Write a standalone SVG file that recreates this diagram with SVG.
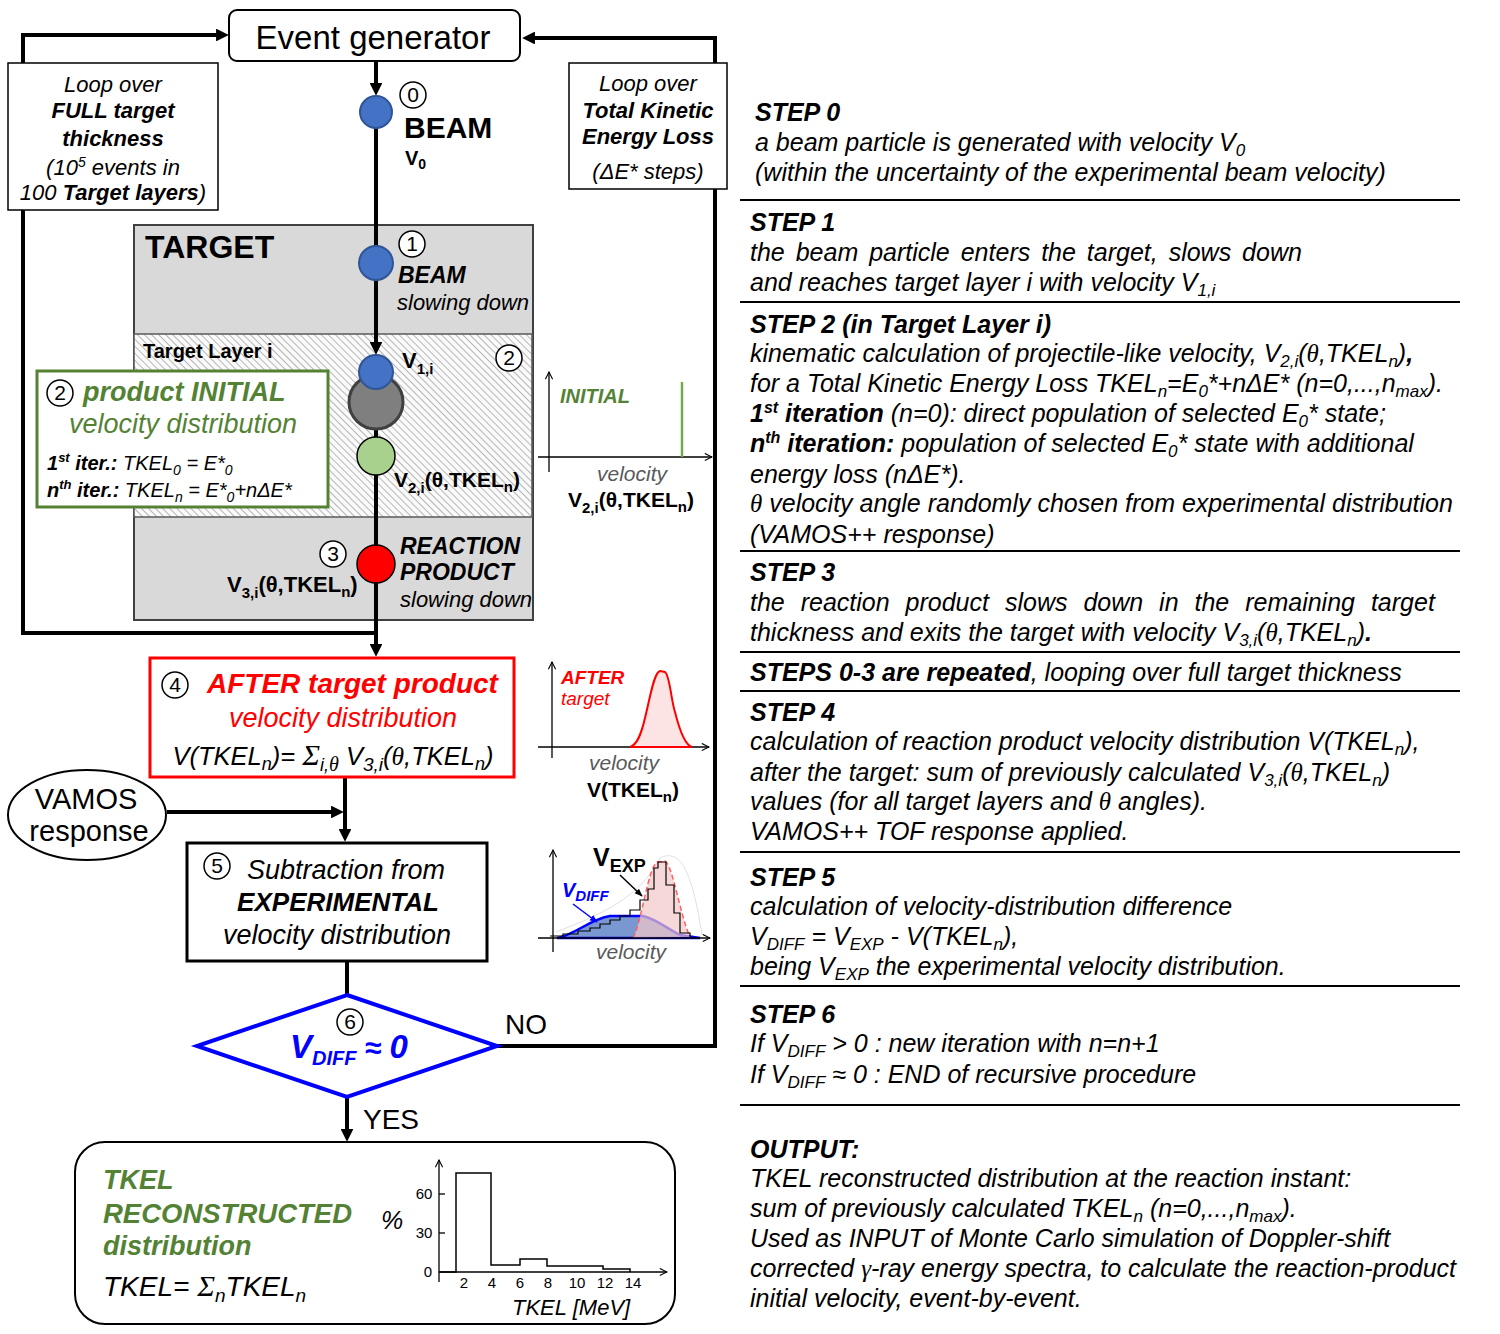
<svg xmlns="http://www.w3.org/2000/svg" width="1500" height="1334" viewBox="0 0 1500 1334">
<defs>
<style>
text{font-family:"Liberation Sans",Arial,sans-serif;fill:#000}
.i{font-style:italic}
.b{font-weight:bold}
.sr{font-family:"Liberation Serif","Times New Roman",serif}
.ln{stroke:#000;stroke-width:4;fill:none}
.thin{stroke:#000;stroke-width:1.3;fill:none}
.cn{fill:#fff;stroke:#000;stroke-width:1.5}
.cnt{font-size:21px;text-anchor:middle}
.rt{font-size:25px;font-style:italic}
.sep{stroke:#000;stroke-width:2}
.gr{fill:#548235}
.rd{fill:#FF0000}
.bl{fill:#0000FF}
.gy{fill:#595959}
</style>
<marker id="ah" viewBox="0 0 10 10" refX="7" refY="5" markerWidth="3.2" markerHeight="3.2" orient="auto" markerUnits="strokeWidth"><path d="M0,0 L10,5 L0,10 z" fill="#000"/></marker>
<marker id="ax" viewBox="0 0 10 10" refX="9" refY="5" markerWidth="9" markerHeight="9" orient="auto" markerUnits="userSpaceOnUse"><path d="M1,1 L9,5 L1,9" fill="none" stroke="#000" stroke-width="1.2"/></marker>
<marker id="sa" viewBox="0 0 10 10" refX="9" refY="5" markerWidth="8" markerHeight="8" orient="auto" markerUnits="userSpaceOnUse"><path d="M0,1 L10,5 L0,9 z" fill="#000"/></marker>
<marker id="sab" viewBox="0 0 10 10" refX="9" refY="5" markerWidth="8" markerHeight="8" orient="auto" markerUnits="userSpaceOnUse"><path d="M0,1 L10,5 L0,9 z" fill="#0000FF"/></marker>
<pattern id="hatch" width="5" height="5" patternUnits="userSpaceOnUse" patternTransform="rotate(-45)">
<rect width="5" height="5" fill="#FAFAFA"/>
<line x1="0" y1="0" x2="0" y2="5" stroke="#A6A6A6" stroke-width="1.6"/>
</pattern>
</defs>

<rect width="1500" height="1334" fill="#fff"/>

<!-- Target background -->
<g id="target">
<rect x="134" y="225" width="399" height="395" fill="#D9D9D9" stroke="#404040" stroke-width="2"/>
<rect x="134" y="334" width="398" height="183" fill="url(#hatch)" stroke="#595959" stroke-width="1.5"/>
<text x="145" y="258" class="b" font-size="32">TARGET</text>
<text x="143" y="358" class="b" font-size="20">Target Layer i</text>
</g>

<!-- Connectors -->
<g id="connectors">
<line x1="376" y1="61" x2="376" y2="92" class="ln" marker-end="url(#ah)"/>
<line x1="376" y1="120" x2="376" y2="351" class="ln" marker-end="url(#ah)"/>
<line x1="376" y1="380" x2="376" y2="653" class="ln" marker-end="url(#ah)"/>
<path d="M376,633 H23 V35 H225" class="ln" marker-end="url(#ah)"/>
<path d="M497,1046 H715 V38 H526" class="ln" marker-end="url(#ah)"/>
<line x1="345" y1="777" x2="345" y2="838" class="ln" marker-end="url(#ah)"/>
<line x1="167" y1="812" x2="340" y2="812" class="ln" marker-end="url(#ah)"/>
<line x1="347" y1="962" x2="347" y2="995" class="ln"/>
<line x1="347" y1="1097" x2="347" y2="1138" class="ln" marker-end="url(#ah)"/>
</g>

<!-- Event generator -->
<g id="event-generator">
<rect x="229" y="10" width="291" height="51" rx="8" fill="#fff" stroke="#000" stroke-width="2"/>
<text x="373" y="49" text-anchor="middle" font-size="33">Event generator</text>
</g>

<!-- Loop boxes -->
<g id="loop-full">
<rect x="8" y="63" width="210" height="147" fill="#fff" stroke="#000" stroke-width="1.5"/>
<text x="113" y="92" text-anchor="middle" class="i" font-size="22">Loop over</text>
<text x="113" y="118" text-anchor="middle" class="i b" font-size="22">FULL target</text>
<text x="113" y="146" text-anchor="middle" class="i b" font-size="22">thickness</text>
<text x="113" y="175" text-anchor="middle" class="i" font-size="22">(10<tspan font-size="14" dy="-8">5</tspan><tspan dy="8"> events in</tspan></text>
<text x="113" y="200" text-anchor="middle" class="i" font-size="22">100 <tspan class="b">Target layers</tspan>)</text>
</g>
<g id="loop-tkel">
<rect x="569" y="63" width="158" height="126" fill="#fff" stroke="#000" stroke-width="1.5"/>
<text x="648" y="91" text-anchor="middle" class="i" font-size="22">Loop over</text>
<text x="648" y="118" text-anchor="middle" class="i b" font-size="22">Total Kinetic</text>
<text x="648" y="144" text-anchor="middle" class="i b" font-size="22">Energy Loss</text>
<text x="648" y="179" text-anchor="middle" class="i" font-size="22">(ΔE* steps)</text>
</g>

<!-- Step 0 beam -->
<g id="beam0">
<circle cx="376" cy="112" r="16" fill="#4472C4" stroke="#2F5597" stroke-width="2"/>
<circle cx="413" cy="95" r="13" class="cn"/>
<text x="413" y="102" class="cnt">0</text>
<text x="404" y="138" class="b" font-size="30">BEAM</text>
<text x="405" y="165" class="b" font-size="20">V<tspan font-size="14" dy="4">0</tspan></text>
</g>

<!-- Step 1 -->
<g id="beam1">
<circle cx="376" cy="263" r="17" fill="#4472C4" stroke="#2F5597" stroke-width="2"/>
<circle cx="412" cy="244" r="13" class="cn"/>
<text x="412" y="251" class="cnt">1</text>
<text x="398" y="283" class="i b" font-size="23">BEAM</text>
<text x="397" y="310" class="i" font-size="22">slowing down</text>
</g>

<!-- Step 2 -->
<g id="layer-i">
<circle cx="376" cy="402" r="27" fill="#7F7F7F" stroke="#404040" stroke-width="3"/>
<circle cx="376" cy="372" r="17" fill="#4472C4" stroke="#2F5597" stroke-width="2"/>
<circle cx="376" cy="456" r="19" fill="#A9D18E" stroke="#000" stroke-width="1.5"/>
<text x="402" y="368" class="b" font-size="22">V<tspan font-size="15" dy="6">1,i</tspan></text>
<circle cx="509" cy="358" r="13" class="cn"/>
<text x="509" y="365" class="cnt">2</text>
<text x="394" y="487" class="b" font-size="21">V<tspan font-size="15" dy="6">2,i</tspan><tspan dy="-6">(θ,TKEL</tspan><tspan font-size="15" dy="5">n</tspan><tspan dy="-5">)</tspan></text>
</g>

<!-- Step 3 -->
<g id="product3">
<circle cx="376" cy="564" r="19" fill="#FF0000" stroke="#000" stroke-width="1.5"/>
<circle cx="333" cy="554" r="13" class="cn"/>
<text x="333" y="561" class="cnt">3</text>
<text x="227" y="592" class="b" font-size="22">V<tspan font-size="15" dy="6">3,i</tspan><tspan dy="-6">(θ,TKEL</tspan><tspan font-size="15" dy="5">n</tspan><tspan dy="-5">)</tspan></text>
<text x="400" y="554" class="i b" font-size="23">REACTION</text>
<text x="400" y="580" class="i b" font-size="23">PRODUCT</text>
<text x="400" y="607" class="i" font-size="22">slowing down</text>
</g>

<!-- Green initial box -->
<g id="initial-box">
<rect x="37" y="371" width="291" height="136" fill="#fff" stroke="#548235" stroke-width="3"/>
<circle cx="60" cy="393" r="13" class="cn"/>
<text x="60" y="400" class="cnt">2</text>
<text x="83" y="401" class="i b gr" font-size="27">product INITIAL</text>
<text x="183" y="433" text-anchor="middle" class="i gr" font-size="27">velocity distribution</text>
<text x="47" y="470" class="i" font-size="20"><tspan class="b">1</tspan><tspan class="b" font-size="13" dy="-8">st</tspan><tspan class="b" dy="8"> iter.:</tspan> TKEL<tspan font-size="14" dy="5">0</tspan><tspan dy="-5"> = E*</tspan><tspan font-size="14" dy="5">0</tspan></text>
<text x="47" y="497" class="i" font-size="20"><tspan class="b">n</tspan><tspan class="b" font-size="13" dy="-8">th</tspan><tspan class="b" dy="8"> iter.:</tspan> TKEL<tspan font-size="14" dy="5">n</tspan><tspan dy="-5"> = E*</tspan><tspan font-size="14" dy="5">0</tspan><tspan dy="-5">+nΔE*</tspan></text>
</g>

<!-- Initial plot -->
<g id="plot-initial">
<line x1="549" y1="472" x2="549" y2="372" class="thin" marker-end="url(#ax)"/>
<line x1="538" y1="457" x2="712" y2="457" class="thin" marker-end="url(#ax)"/>
<line x1="682" y1="382" x2="682" y2="457" stroke="#70AD47" stroke-width="2.5"/>
<text x="560" y="403" class="i b gr" font-size="20">INITIAL</text>
<text x="632" y="481" text-anchor="middle" class="i gy" font-size="21">velocity</text>
<text x="568" y="507" class="b" font-size="21">V<tspan font-size="15" dy="6">2,i</tspan><tspan dy="-6">(θ,TKEL</tspan><tspan font-size="15" dy="5">n</tspan><tspan dy="-5">)</tspan></text>
</g>

<!-- After target box -->
<g id="after-box">
<rect x="150" y="658" width="364" height="119" fill="#fff" stroke="#FF0000" stroke-width="3"/>
<circle cx="175" cy="685" r="13" class="cn"/>
<text x="175" y="692" class="cnt">4</text>
<text x="207" y="693" class="i b rd" font-size="28">AFTER target product</text>
<text x="343" y="727" text-anchor="middle" class="i rd" font-size="27">velocity distribution</text>
<text x="333" y="765" text-anchor="middle" class="i" font-size="25.5">V(TKEL<tspan font-size="18" dy="5">n</tspan><tspan dy="-5">)= </tspan><tspan class="sr" font-size="30">Σ</tspan><tspan font-size="18" dy="6">i,</tspan><tspan class="sr" font-size="20">θ</tspan><tspan dy="-6"> V</tspan><tspan font-size="19" dy="6">3,i</tspan><tspan dy="-6">(</tspan><tspan class="sr">θ</tspan>,TKEL<tspan font-size="18" dy="5">n</tspan><tspan dy="-5">)</tspan></text>
</g>

<!-- After plot -->
<g id="plot-after">
<line x1="552" y1="758" x2="552" y2="662" class="thin" marker-end="url(#ax)"/>
<line x1="538" y1="747" x2="709" y2="747" class="thin" marker-end="url(#ax)"/>
<path d="M630,747 C637,745 641,735 645,718 C650,698 654,672 660,671 L665,672 C670,676 671,700 675,712 C680,732 685,745 692,747 Z" fill="#FCE4E4" stroke="#FF0000" stroke-width="2"/>
<text x="561" y="684" class="i b rd" font-size="19">AFTER</text>
<text x="561" y="705" class="i rd" font-size="19">target</text>
<text x="624" y="770" text-anchor="middle" class="i gy" font-size="21">velocity</text>
<text x="587" y="797" class="b" font-size="21">V(TKEL<tspan font-size="15" dy="5">n</tspan><tspan dy="-5">)</tspan></text>
</g>

<!-- VAMOS response -->
<g id="vamos">
<ellipse cx="87" cy="815" rx="79" ry="45" fill="#fff" stroke="#000" stroke-width="2"/>
<text x="86" y="809" text-anchor="middle" font-size="29">VAMOS</text>
<text x="89" y="841" text-anchor="middle" font-size="29">response</text>
</g>

<!-- Subtraction box -->
<g id="subtraction">
<rect x="187" y="843" width="300" height="118" fill="#fff" stroke="#000" stroke-width="3"/>
<circle cx="217" cy="866" r="13" class="cn"/>
<text x="217" y="873" class="cnt">5</text>
<text x="247" y="879" class="i" font-size="27">Subtraction from</text>
<text x="338" y="911" text-anchor="middle" class="i b" font-size="26">EXPERIMENTAL</text>
<text x="337" y="944" text-anchor="middle" class="i" font-size="27">velocity distribution</text>
</g>

<!-- Vexp plot -->
<g id="plot-exp">
<line x1="553" y1="952" x2="553" y2="850" class="thin" marker-end="url(#ax)"/>
<path d="M556,932 C600,915 640,898 660,858 C680,848 692,870 702,935" fill="none" stroke="#E0E0E0" stroke-width="1"/>
<path d="M557,938 C575,935 590,919 610,916 L643,916 C656,919 668,929 680,935 L700,938 Z" fill="#6A8CCB" fill-opacity="0.9" stroke="#0000FF" stroke-width="2.5"/>
<path d="M633,938 C641,925 648,868 657,862 L665,861 C673,866 680,915 690,937" fill="#F4C7C7" fill-opacity="0.7" stroke="#FF6060" stroke-width="1.5" stroke-dasharray="5,3"/>
<path d="M550,936 H563 V934 H578 V931 H590 V928 H600 V924 H610 V920 H620 V916 H630 V910 H640 V900 H648 V889 H654 V868 H658 V862 H666 V885 H674 V913 H680 V933 H690 V937" fill="none" stroke="#000" stroke-width="1.2"/>
<line x1="538" y1="938" x2="710" y2="938" class="thin" marker-end="url(#ax)"/>
<text x="593" y="866" class="b" font-size="25">V<tspan font-size="18" dy="6">EXP</tspan></text>
<text x="562" y="897" class="i b bl" font-size="20">V<tspan font-size="15" dy="4">DIFF</tspan></text>
<line x1="620" y1="875" x2="642" y2="896" stroke="#000" stroke-width="1.5" marker-end="url(#sa)"/>
<line x1="573" y1="904" x2="597" y2="922" stroke="#0000FF" stroke-width="1.5" marker-end="url(#sab)"/>
<text x="631" y="959" text-anchor="middle" class="i gy" font-size="21">velocity</text>
</g>

<!-- Decision -->
<g id="decision">
<polygon points="347,995 497,1046 347,1097 197,1046" fill="#fff" stroke="#0000FF" stroke-width="4"/>
<circle cx="350" cy="1022" r="13" class="cn"/>
<text x="350" y="1029" class="cnt">6</text>
<text x="290" y="1058" class="i b bl" font-size="33">V<tspan font-size="20" dy="7">DIFF</tspan><tspan dy="-7" font-size="30"> ≈ </tspan>0</text>
<text x="505" y="1034" font-size="28">NO</text>
<text x="363" y="1129" font-size="28">YES</text>
</g>

<!-- Output -->
<g id="output">
<rect x="75" y="1142" width="600" height="182" rx="30" fill="#fff" stroke="#000" stroke-width="2"/>
<text x="103" y="1189" class="i b gr" font-size="27">TKEL</text>
<text x="103" y="1223" class="i b gr" font-size="27.5">RECONSTRUCTED</text>
<text x="103" y="1255" class="i b gr" font-size="27">distribution</text>
<text x="103" y="1296" class="i" font-size="28">TKEL= <tspan class="sr" font-size="30">Σ</tspan><tspan font-size="19" dy="6">n</tspan><tspan dy="-6">TKEL</tspan><tspan font-size="19" dy="6">n</tspan></text>
<text x="381" y="1229" class="i" font-size="25">%</text>
<line x1="439" y1="1282" x2="439" y2="1160" class="thin" marker-end="url(#ax)"/>
<line x1="439" y1="1272" x2="667" y2="1272" class="thin" marker-end="url(#ax)"/>
<line x1="439" y1="1194" x2="445" y2="1194" class="thin"/>
<line x1="439" y1="1233" x2="445" y2="1233" class="thin"/>
<path d="M439,1272 H456 V1173 H491 V1265 H520 V1259 H547 V1266 H603 V1269 H630 V1272" fill="none" stroke="#000" stroke-width="1.5"/>
<g font-size="15" text-anchor="middle">
<text x="424" y="1199">60</text>
<text x="424" y="1238">30</text>
<text x="428" y="1277">0</text>
<text x="464" y="1288">2</text>
<text x="492" y="1288">4</text>
<text x="520" y="1288">6</text>
<text x="548" y="1288">8</text>
<text x="577" y="1288">10</text>
<text x="605" y="1288">12</text>
<text x="633" y="1288">14</text>
</g>
<text x="512" y="1315" class="i" font-size="22">TKEL [MeV]</text>
</g>

<!-- Right column -->
<g id="steps">
<line x1="740" y1="200" x2="1460" y2="200" class="sep"/>
<line x1="740" y1="302" x2="1460" y2="302" class="sep"/>
<line x1="740" y1="551" x2="1460" y2="551" class="sep"/>
<line x1="740" y1="652" x2="1460" y2="652" class="sep"/>
<line x1="740" y1="691" x2="1460" y2="691" class="sep"/>
<line x1="740" y1="852" x2="1460" y2="852" class="sep"/>
<line x1="740" y1="986" x2="1460" y2="986" class="sep"/>
<line x1="740" y1="1105" x2="1460" y2="1105" class="sep"/>

<text x="755" y="121" class="rt b">STEP 0</text>
<text x="755" y="151" class="rt">a beam particle is generated with velocity V<tspan font-size="17" dy="5">0</tspan></text>
<text x="755" y="181" class="rt">(within the uncertainty of the experimental beam velocity)</text>

<text x="750" y="231" class="rt b">STEP 1</text>
<text x="750" y="261" class="rt" word-spacing="4">the beam particle enters the target, slows down</text>
<text x="750" y="291" class="rt">and reaches target layer i with velocity V<tspan font-size="17" dy="5">1,i</tspan></text>

<text x="750" y="333" class="rt b">STEP 2 (in Target Layer i)</text>
<text x="750" y="362" class="rt">kinematic calculation of projectile-like velocity, V<tspan font-size="17" dy="5">2,i</tspan><tspan dy="-5">(</tspan><tspan class="sr">θ</tspan>,TKEL<tspan font-size="17" dy="5">n</tspan><tspan dy="-5">)</tspan><tspan class="b">,</tspan></text>
<text x="750" y="392" class="rt">for a Total Kinetic Energy Loss TKEL<tspan font-size="17" dy="5">n</tspan><tspan dy="-5">=E</tspan><tspan font-size="17" dy="5">0</tspan><tspan dy="-5">*+nΔE*  (n=0,...,n</tspan><tspan font-size="17" dy="5">max</tspan><tspan dy="-5">).</tspan></text>
<text x="750" y="422" class="rt"><tspan class="b">1</tspan><tspan class="b" font-size="16" dy="-9">st</tspan><tspan class="b" dy="9"> iteration</tspan> (n=0): direct population of selected E<tspan font-size="17" dy="5">0</tspan><tspan dy="-5">* state;</tspan></text>
<text x="750" y="452" class="rt"><tspan class="b">n</tspan><tspan class="b" font-size="16" dy="-9">th</tspan><tspan class="b" dy="9"> iteration:</tspan> population of selected E<tspan font-size="17" dy="5">0</tspan><tspan dy="-5">* state with additional</tspan></text>
<text x="750" y="483" class="rt">energy loss (nΔE*).</text>
<text x="750" y="512" class="rt"><tspan class="sr">θ</tspan> velocity angle randomly chosen from experimental distribution</text>
<text x="750" y="543" class="rt">(VAMOS++ response)</text>

<text x="750" y="581" class="rt b">STEP 3</text>
<text x="750" y="611" class="rt" word-spacing="9">the reaction product slows down in the remaining target</text>
<text x="750" y="641" class="rt">thickness and exits the target with velocity V<tspan font-size="17" dy="5">3,i</tspan><tspan dy="-5">(</tspan><tspan class="sr">θ</tspan>,TKEL<tspan font-size="17" dy="5">n</tspan><tspan dy="-5">)</tspan><tspan class="b">.</tspan></text>

<text x="750" y="681" class="rt"><tspan class="b">STEPS 0-3 are repeated</tspan>, looping over full target thickness</text>

<text x="750" y="721" class="rt b">STEP 4</text>
<text x="750" y="750" class="rt">calculation of reaction product velocity distribution V(TKEL<tspan font-size="17" dy="5">n</tspan><tspan dy="-5">),</tspan></text>
<text x="750" y="781" class="rt">after the target: sum of previously calculated V<tspan font-size="17" dy="5">3,i</tspan><tspan dy="-5">(</tspan><tspan class="sr">θ</tspan>,TKEL<tspan font-size="17" dy="5">n</tspan><tspan dy="-5">)</tspan></text>
<text x="750" y="810" class="rt">values (for all target layers and <tspan class="sr">θ</tspan> angles).</text>
<text x="750" y="840" class="rt">VAMOS++ TOF response applied.</text>

<text x="750" y="886" class="rt b">STEP 5</text>
<text x="750" y="915" class="rt">calculation of velocity-distribution difference</text>
<text x="750" y="945" class="rt">V<tspan font-size="17" dy="5">DIFF</tspan><tspan dy="-5"> = V</tspan><tspan font-size="17" dy="5">EXP</tspan><tspan dy="-5"> - V(TKEL</tspan><tspan font-size="17" dy="5">n</tspan><tspan dy="-5">),</tspan></text>
<text x="750" y="975" class="rt">being V<tspan font-size="17" dy="5">EXP</tspan><tspan dy="-5">  the experimental velocity distribution.</tspan></text>

<text x="750" y="1023" class="rt b">STEP 6</text>
<text x="750" y="1052" class="rt">If V<tspan font-size="17" dy="5">DIFF</tspan><tspan dy="-5"> &gt; 0 : new iteration with n=n+1</tspan></text>
<text x="750" y="1083" class="rt">If V<tspan font-size="17" dy="5">DIFF</tspan><tspan dy="-5"> ≈ 0 : END of recursive procedure</tspan></text>

<text x="750" y="1158" class="rt b">OUTPUT:</text>
<text x="750" y="1187" class="rt">TKEL reconstructed distribution at the reaction instant:</text>
<text x="750" y="1217" class="rt">sum of previously calculated TKEL<tspan font-size="17" dy="5">n</tspan><tspan dy="-5"> (n=0,...,n</tspan><tspan font-size="17" dy="5">max</tspan><tspan dy="-5">).</tspan></text>
<text x="750" y="1247" class="rt">Used as INPUT of Monte Carlo simulation of Doppler-shift</text>
<text x="750" y="1277" class="rt">corrected <tspan class="sr">γ</tspan>-ray energy spectra, to calculate the reaction-product</text>
<text x="750" y="1307" class="rt">initial velocity, event-by-event.</text>
</g>
</svg>
